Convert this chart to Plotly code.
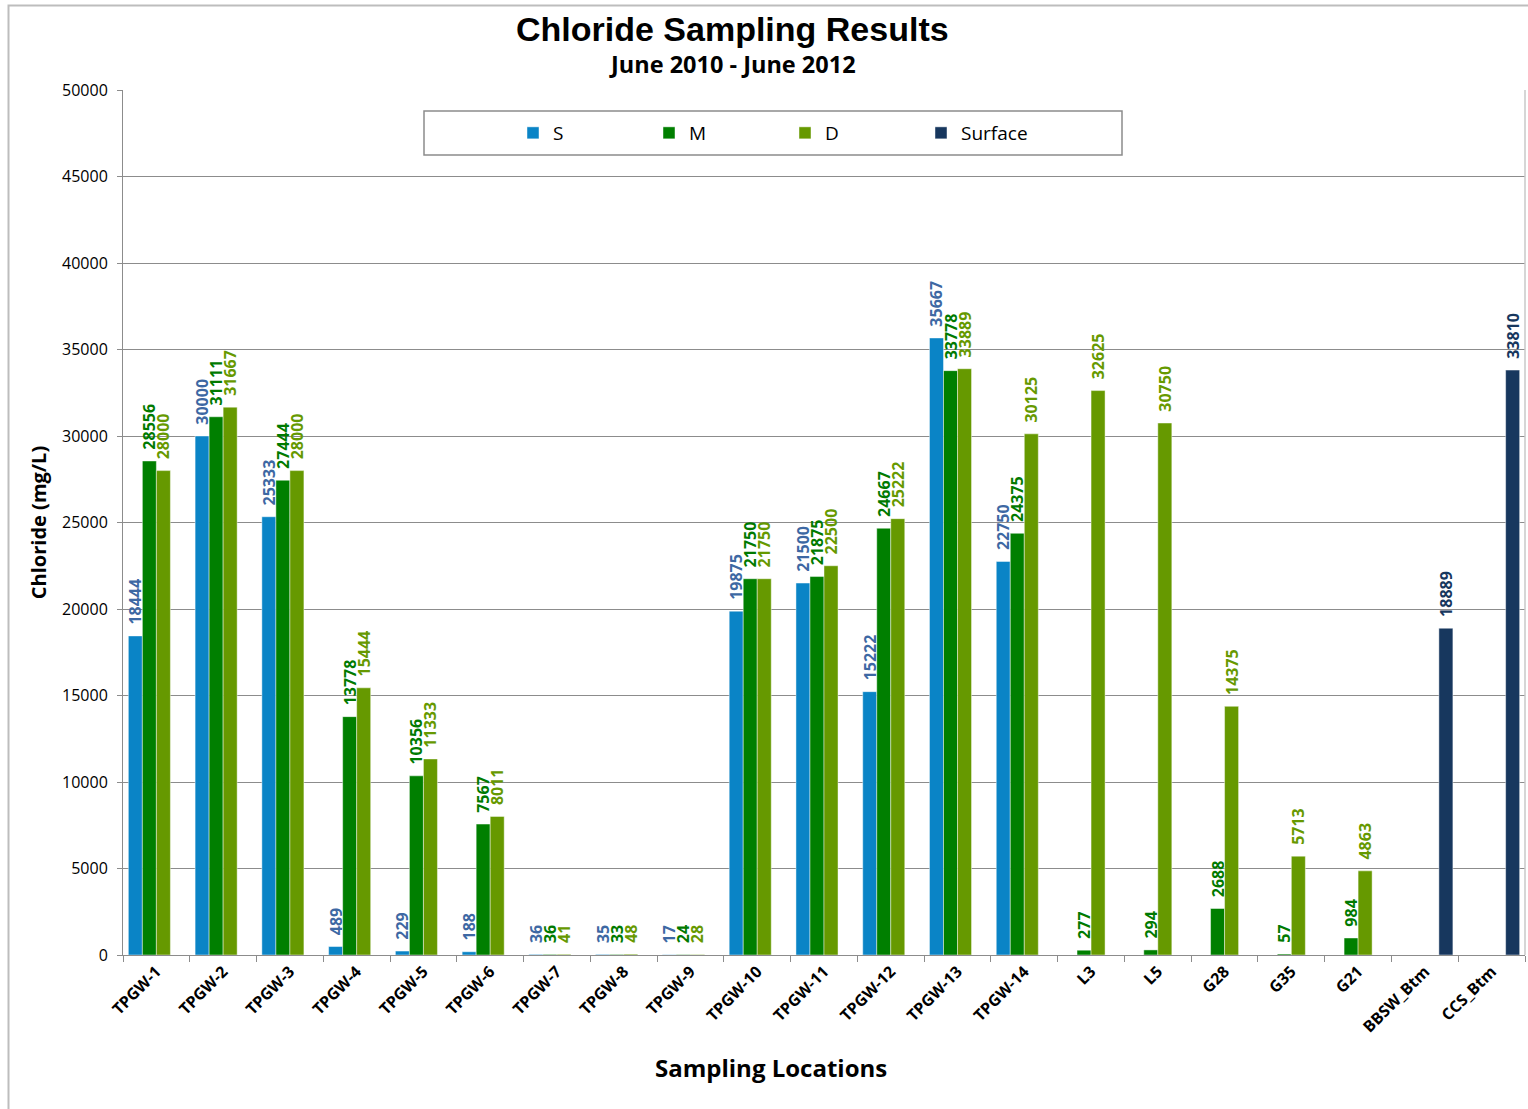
import plotly.graph_objects as go

# Sampling locations along the x axis
locations = ["TPGW-1", "TPGW-2", "TPGW-3", "TPGW-4", "TPGW-5", "TPGW-6", "TPGW-7",
             "TPGW-8", "TPGW-9", "TPGW-10", "TPGW-11", "TPGW-12", "TPGW-13", "TPGW-14",
             "L3", "L5", "G28", "G35", "G21", "BBSW_Btm", "CCS_Btm"]

# Chloride concentration (mg/L) by sampling depth
shallow = [18444, 30000, 25333, 489, 229, 188, 36, 35, 17, 19875, 21500, 15222, 35667, 22750,
           None, None, None, None, None, None, None]
middle = [28556, 31111, 27444, 13778, 10356, 7567, 36, 33, 24, 21750, 21875, 24667, 33778, 24375,
          277, 294, 2688, 57, 984, None, None]
deep = [28000, 31667, 28000, 15444, 11333, 8011, 41, 48, 28, 21750, 22500, 25222, 33889, 30125,
        32625, 30750, 14375, 5713, 4863, None, None]
surface = [None] * 19 + [18889, 33810]

y_ticks = list(range(0, 50001, 5000))

W, H = 1528, 1109
ML, MR, MT, MB = 123, 3, 90, 154
PW, PH = W - ML - MR, H - MT - MB


def px_x(p):
    return (p - ML) / PW


def px_y(p):
    return (H - MB - p) / PH


series = [
    ("S", shallow, "#0a84c6", "#3d68a3"),
    ("M", middle, "#007f00", "#007a00"),
    ("D", deep, "#669900", "#669900"),
    ("Surface", surface, "#17375e", "#17375e"),
]

# leading non-breaking spaces lift the rotated value labels clear of the bar tops
LIFT = "\u00a0\u00a0"

fig = go.Figure()
for name, vals, color, label_color in series:
    fig.add_trace(go.Bar(
        name=name,
        x=locations,
        y=vals,
        text=[LIFT + str(v) if v is not None else "" for v in vals],
        textposition="outside",
        textangle=-90,
        constraintext="none",
        cliponaxis=False,
        textfont=dict(family="Open Sans", size=16, color=label_color, weight="bold"),
        marker=dict(color=color, line=dict(color="rgba(255,255,255,0.45)", width=1)),
    ))

fig.update_layout(
    width=W, height=H,
    margin=dict(l=ML, r=MR, t=MT, b=MB),
    paper_bgcolor="white", plot_bgcolor="white",
    barmode="group", bargap=0.16, bargroupgap=0,
    font=dict(family="Open Sans", color="black"),
    showlegend=True,
    legend=dict(
        orientation="h", x=px_x(513), xanchor="left", y=px_y(133), yanchor="middle",
        entrywidth=91, entrywidthmode="pixels",
        font=dict(family="Open Sans", size=19, color="black"),
        bgcolor="rgba(0,0,0,0)", borderwidth=0, traceorder="normal",
    ),
    xaxis=dict(
        type="category",
        tickangle=-45,
        tickfont=dict(family="Open Sans", size=16, color="black", weight="bold"),
        ticks="outside", tickson="boundaries", ticklen=6, tickcolor="#8c8c8c",
        showline=True, linecolor="#8c8c8c", linewidth=1,
        showgrid=False,
    ),
    yaxis=dict(
        range=[0, 50000],
        tickvals=y_ticks, tickformat="d",
        tickfont=dict(family="Open Sans", size=16, color="black"),
        ticks="outside", ticklen=5, tickcolor="#8c8c8c", ticklabelstandoff=6,
        showline=True, linecolor="#8c8c8c", linewidth=1,
        showgrid=True, gridcolor="#8c8c8c", gridwidth=1,
        zeroline=False,
        title=dict(text="Chloride (mg/L)",
                   font=dict(family="Open Sans", size=20, color="black", weight="bold"),
                   standoff=10),
    ),
    annotations=[
        dict(text="Chloride Sampling Results", xref="paper", yref="paper",
             x=px_x(732), y=px_y(29), xanchor="center", yanchor="middle", showarrow=False,
             font=dict(family="Liberation Sans", size=34, color="black", weight="bold")),
        dict(text="June 2010 - June 2012", xref="paper", yref="paper",
             x=px_x(732), y=px_y(64), xanchor="center", yanchor="middle", showarrow=False,
             font=dict(family="Open Sans", size=23.5, color="black", weight="bold")),
        dict(text="Sampling Locations", xref="paper", yref="paper",
             x=px_x(771), y=px_y(1067), xanchor="center", yanchor="middle", showarrow=False,
             font=dict(family="Open Sans", size=24, color="black", weight="bold")),
    ],
    shapes=[
        # outer chart frame
        dict(type="rect", xref="paper", yref="paper",
             x0=px_x(8.5), x1=px_x(W + 5), y0=px_y(H + 5), y1=px_y(5.5),
             line=dict(color="#bdbdbd", width=2), fillcolor="rgba(0,0,0,0)", layer="below"),
        # right edge of the plot area
        dict(type="line", xref="paper", yref="paper", x0=1, x1=1, y0=0, y1=1,
             line=dict(color="#c8c8c8", width=1.5)),
        # legend frame
        dict(type="rect", xref="paper", yref="paper",
             x0=px_x(424), x1=px_x(1122), y0=px_y(155), y1=px_y(111),
             line=dict(color="#8c8c8c", width=1.5), fillcolor="white", layer="above"),
    ],
)

fig.write_html("out.html")
